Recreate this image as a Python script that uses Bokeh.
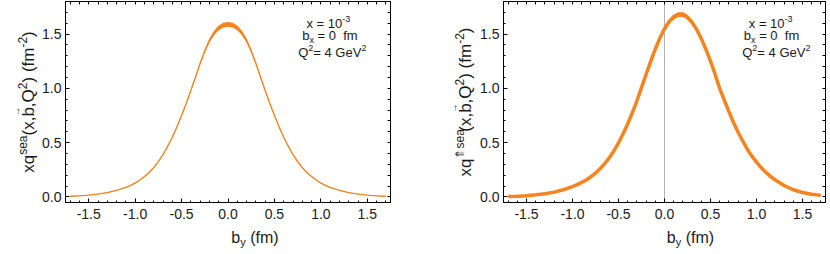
import math
from bokeh.plotting import figure
from bokeh.models import Range1d, FixedTicker, LinearAxis, Label, Span, PrintfTickFormatter
from bokeh.layouts import row, column
from bokeh.embed import file_html
from bokeh.resources import INLINE

# ---------------- data ----------------
by_left = [-1.7, -1.6, -1.5, -1.4, -1.3, -1.2, -1.15, -1.1, -1.05, -1.0, -0.95, -0.9, -0.85, -0.8,
           -0.75, -0.7, -0.65, -0.6, -0.55, -0.5, -0.45, -0.4, -0.35, -0.3, -0.25, -0.2, -0.15, -0.1,
           -0.05, 0.0, 0.05, 0.1, 0.15, 0.2, 0.25, 0.3, 0.35, 0.4, 0.45, 0.5, 0.55, 0.6, 0.65, 0.7,
           0.75, 0.8, 0.85, 0.9, 0.95, 1.0, 1.05, 1.1, 1.15, 1.2, 1.3, 1.4, 1.5, 1.6, 1.7]
xq_sea = [0.006, 0.010, 0.016, 0.026, 0.040, 0.060, 0.073, 0.088, 0.106, 0.128, 0.155, 0.187, 0.225, 0.27,
          0.325, 0.39, 0.465, 0.55, 0.645, 0.75, 0.86, 0.98, 1.105, 1.23, 1.345, 1.44, 1.51, 1.556,
          1.582, 1.59, 1.582, 1.556, 1.51, 1.44, 1.345, 1.23, 1.105, 0.98, 0.86, 0.75, 0.645, 0.55, 0.465, 0.39,
          0.325, 0.27, 0.225, 0.187, 0.155, 0.128, 0.106, 0.088, 0.073, 0.060, 0.040, 0.026, 0.016, 0.010, 0.006]
xq_sea_err = [0.002, 0.002, 0.002, 0.002, 0.002, 0.003, 0.003, 0.003, 0.003, 0.004, 0.004, 0.004, 0.004, 0.005,
              0.005, 0.005, 0.005, 0.006, 0.007, 0.008, 0.009, 0.010, 0.012, 0.014, 0.016, 0.018, 0.020, 0.022,
              0.022, 0.022, 0.022, 0.022, 0.020, 0.018, 0.016, 0.014, 0.012, 0.010, 0.009, 0.008, 0.007, 0.006, 0.005, 0.005,
              0.005, 0.005, 0.004, 0.004, 0.004, 0.004, 0.003, 0.003, 0.003, 0.003, 0.002, 0.002, 0.002, 0.002, 0.002]

by_right = [-1.7, -1.6, -1.5, -1.4, -1.3, -1.2, -1.1, -1.0, -0.95, -0.9, -0.85, -0.8, -0.75, -0.7,
            -0.65, -0.6, -0.55, -0.5, -0.45, -0.4, -0.35, -0.3, -0.25, -0.2, -0.15, -0.1, -0.05, 0.0,
            0.05, 0.1, 0.15, 0.2, 0.25, 0.3, 0.35, 0.4, 0.45, 0.5, 0.55, 0.6, 0.65, 0.7, 0.75, 0.8,
            0.85, 0.9, 0.95, 1.0, 1.05, 1.1, 1.15, 1.2, 1.3, 1.4, 1.5, 1.6, 1.7]
xq_pol_sea = [0.004, 0.007, 0.011, 0.019, 0.029, 0.044, 0.066, 0.095, 0.113, 0.134, 0.156, 0.186, 0.219, 0.259,
              0.306, 0.361, 0.424, 0.497, 0.581, 0.672, 0.775, 0.885, 1.007, 1.129, 1.249, 1.362, 1.463, 1.549,
              1.614, 1.658, 1.680, 1.680, 1.655, 1.608, 1.542, 1.458, 1.358, 1.250, 1.130, 1.0, 0.89, 0.785, 0.685, 0.595,
              0.515, 0.44, 0.375, 0.32, 0.27, 0.228, 0.19, 0.158, 0.105, 0.066, 0.040, 0.024, 0.014]
xq_pol_sea_err = [0.002, 0.002, 0.002, 0.002, 0.003, 0.003, 0.004, 0.005, 0.005, 0.006, 0.006, 0.007, 0.007, 0.008,
                  0.009, 0.010, 0.011, 0.012, 0.013, 0.014, 0.015, 0.016, 0.017, 0.018, 0.019, 0.020, 0.021, 0.022,
                  0.022, 0.022, 0.022, 0.022, 0.022, 0.021, 0.020, 0.019, 0.018, 0.017, 0.016, 0.015, 0.014, 0.013, 0.012, 0.011,
                  0.010, 0.009, 0.008, 0.007, 0.006, 0.006, 0.005, 0.005, 0.004, 0.003, 0.003, 0.002, 0.002]

x_ticks = [-1.5, -1.0, -0.5, 0.0, 0.5, 1.0, 1.5]
y_ticks = [0.0, 0.5, 1.0, 1.5]
x_minor = [round(-1.7 + 0.1 * i, 1) for i in range(35)]
y_minor = [round(0.1 * i, 1) for i in range(19)]

# ---------------- styling / geometry ----------------
FONT = "Liberation Sans"
TXT = "#1a1a1a"
ORANGE = "#F5841F"
NB = "\u00a0"
XMIN, XMAX = -1.75, 1.75
YMIN, YMAX = -0.0517, 1.80
H = 254                      # total height
MAIN_H = 226                 # height of each plotting figure
FRAME_TOP, FRAME_BOTTOM = 1, 202
BASE_FIX = 0.25              # baseline correction (fraction of font size)

AW = {' ': 278, NB: 278, '(': 333, ')': 333, ',': 278, '-': 333, '.': 278, '=': 584, 'G': 778, 'Q': 778,
      'V': 667, 'a': 556, 'b': 556, 'e': 556, 'f': 278, 'm': 833, 'q': 556, 's': 500, 'x': 500,
      'y': 500, '0': 556, '1': 556, '2': 556, '3': 556, '4': 556, '\u21d1': 620, '\u2192': 1000}


def text_width(s, size):
    return sum(AW.get(ch, 556) for ch in s) * size / 1000.0


def compose(p, x, y, segs, x_off=0.0, y_off=0.0, vertical=False, center=False):
    total = sum(text_width(t, sz) for t, sz, rise, kind in segs if kind != "over")
    adv = -total / 2.0 if center else 0.0
    last_w = 0.0
    for t, sz, rise, kind in segs:
        w = text_width(t, sz)
        pos = adv - last_w / 2.0 - w / 2.0 if kind == "over" else adv
        r = rise + BASE_FIX * sz
        if vertical:
            xo, yo, ang = x_off - r, y_off + pos, math.pi / 2
        else:
            xo, yo, ang = x_off + pos, y_off + r, 0.0
        p.add_layout(Label(x=x, y=y, x_offset=xo, y_offset=yo, text=t, angle=ang,
                           text_font=FONT, text_font_size=f"{sz}px", text_color=TXT,
                           text_baseline="alphabetic", text_align="left"))
        if kind != "over":
            adv += w
            last_w = w


def style_axis(ax, labels=True):
    ax.axis_line_color = "black"
    ax.axis_line_width = 1
    ax.major_tick_line_color = "black"
    ax.minor_tick_line_color = "black"
    ax.major_tick_in = 4
    ax.major_tick_out = 0
    ax.minor_tick_in = 2
    ax.minor_tick_out = 0
    if labels:
        ax.major_label_text_font = FONT
        ax.major_label_text_font_size = "14px"
        ax.major_label_text_color = TXT
        ax.formatter = PrintfTickFormatter(format="%.1f")
    else:
        ax.minor_tick_in = 3


def blank_fig(width, height):
    f = figure(width=width, height=height, x_range=Range1d(0, 1), y_range=Range1d(0, 1),
               output_backend="svg", toolbar_location=None, x_axis_type=None, y_axis_type=None,
               min_border=0, min_border_left=0, min_border_right=0, min_border_top=0, min_border_bottom=0)
    f.grid.visible = False
    f.outline_line_color = None
    f.background_fill_color = "white"
    f.border_fill_color = "white"
    return f


def make_fig(width, bl, br):
    p = figure(width=width, height=MAIN_H, x_range=Range1d(XMIN, XMAX), y_range=Range1d(YMIN, YMAX),
               output_backend="svg", toolbar_location=None,
               min_border_left=bl, min_border_right=br, min_border_top=FRAME_TOP,
               min_border_bottom=MAIN_H - FRAME_BOTTOM)
    p.grid.visible = False
    p.outline_line_color = "black"
    p.background_fill_color = "white"
    p.border_fill_color = "white"
    p.xaxis.ticker = FixedTicker(ticks=x_ticks, minor_ticks=x_minor)
    p.yaxis.ticker = FixedTicker(ticks=y_ticks, minor_ticks=y_minor)
    style_axis(p.xaxis[0])
    style_axis(p.yaxis[0])
    p.xaxis.major_label_standoff = 6
    p.yaxis.major_label_standoff = 4
    top = LinearAxis(ticker=FixedTicker(ticks=[], minor_ticks=x_minor))
    right = LinearAxis(ticker=FixedTicker(ticks=[], minor_ticks=y_minor))
    style_axis(top, labels=False)
    style_axis(right, labels=False)
    p.add_layout(top, "above")
    p.add_layout(right, "right")
    return p


def annotate(p, x1, x2, x3):
    compose(p, x1, 1.5696, [("x = 10", 13, 0, ""), ("-3", 9, 5.5, "")])
    compose(p, x2, 1.4544, [("b", 13, 0, ""), ("x", 9, -3, ""), (NB + "=" + NB + "0" + NB + NB + "fm", 13, 0, "")])
    compose(p, x3, 1.3023, [("Q", 13, 0, ""), ("2", 9, 5.5, ""), ("=" + NB + "4" + NB + "GeV", 13, 0, ""), ("2", 9, 5.5, "")])


def xlabel_fig(width, center_px):
    f = blank_fig(width, H - MAIN_H)
    compose(f, 0.0, 0.0, [("b", 16, 0, ""), ("y", 11, -4, ""), (NB + "(fm)", 16, 0, "")],
            x_off=center_px, y_off=13.3, center=True)
    return f


def ylabel_fig(width, baseline_px, sup):
    f = blank_fig(width, H)
    mid = H - (FRAME_TOP + FRAME_BOTTOM) / 2.0
    compose(f, 0.0, 0.0,
            [("xq", 17, 0, ""), (sup, 12, 7, ""), ("(x,", 17, 0, ""), ("b", 17, 0, ""),
             ("\u2192", 9, 13.5, "over"), (",Q", 17, 0, ""), ("2", 12, 7, ""), (")" + NB + "(fm", 17, 0, ""),
             ("-2", 12, 7, ""), (")", 17, 0, "")],
            x_off=baseline_px, y_off=mid, vertical=True, center=True)
    return f


# ---------------- left panel (canvas x 0..415) ----------------
p1 = make_fig(377, 27, 25)
lo1 = [v - e for v, e in zip(xq_sea, xq_sea_err)]
hi1 = [v + e for v, e in zip(xq_sea, xq_sea_err)]
p1.varea(x=by_left, y1=lo1, y2=hi1, fill_color=ORANGE)
p1.line(by_left, xq_sea, line_color=ORANGE, line_width=1.3)
annotate(p1, 0.845, 0.799, 0.756)
yl1 = ylabel_fig(38, 32, "sea")
xl1 = xlabel_fig(377, (27 + 377 - 25) / 2.0)

# ---------------- right panel (canvas x 415..830) ----------------
p2 = make_fig(353, 26, 5)
p2.add_layout(Span(location=0.0, dimension="height", line_color="#b4b4b4", line_width=1, level="underlay"))
lo2 = [v - e for v, e in zip(xq_pol_sea, xq_pol_sea_err)]
hi2 = [v + e for v, e in zip(xq_pol_sea, xq_pol_sea_err)]
p2.varea(x=by_right, y1=lo2, y2=hi2, fill_color=ORANGE)
p2.line(by_right, xq_pol_sea, line_color=ORANGE, line_width=3.5)
annotate(p2, 0.916, 0.862, 0.845)
yl2 = ylabel_fig(62, 54, "\u21d1sea")
xl2 = xlabel_fig(353, (26 + 353 - 5) / 2.0)

layout = row(yl1, column(p1, xl1), yl2, column(p2, xl2))
open("out.html", "w").write(file_html(layout, INLINE))
